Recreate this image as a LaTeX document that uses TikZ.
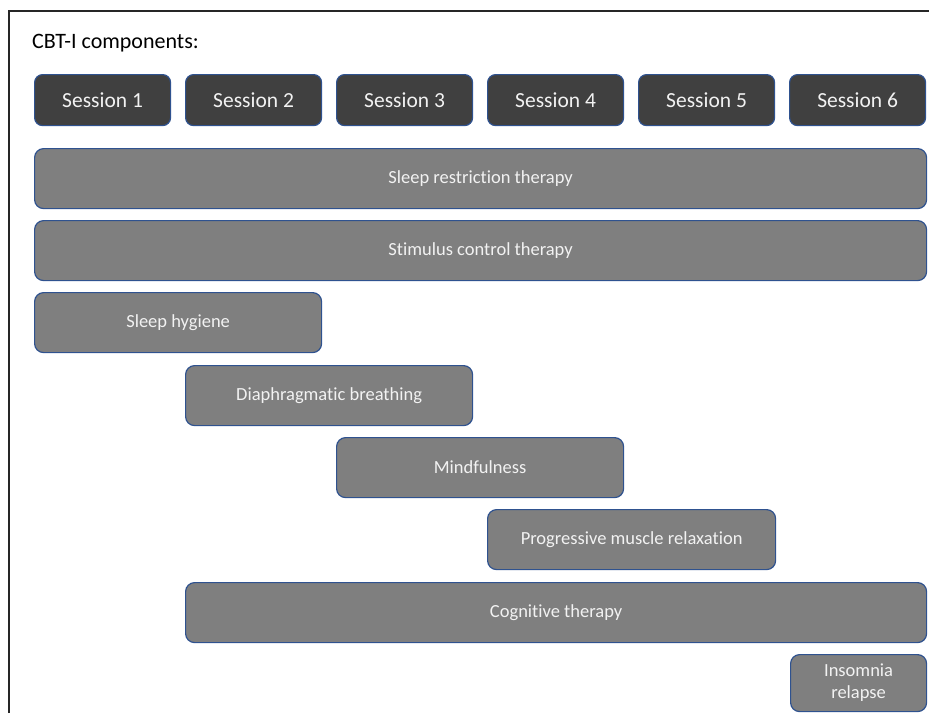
\documentclass[tikz,border=0pt]{standalone}
\usepackage{fontspec}
\setmainfont{Carlito}[Ligatures=NoCommon]
\definecolor{sessfill}{HTML}{404040}
\definecolor{barfill}{HTML}{7F7F7F}
\definecolor{edgeblue}{HTML}{2F528F}
\definecolor{labeltext}{HTML}{F2F2F2}
\tikzset{
  session/.style={draw=edgeblue, line width=1.2pt, fill=sessfill, rounded corners=8pt,
    text=labeltext, font=\fontsize{21.5}{24}\selectfont, inner sep=0pt,
    minimum width=136pt, minimum height=51pt, anchor=north west},
  bar/.style={draw=edgeblue, line width=1.2pt, fill=barfill, rounded corners=9pt,
    text=labeltext, font=\fontsize{18.5}{22}\selectfont, inner sep=0pt, align=center,
    minimum height=60pt, anchor=north west}
}

\begin{document}
\begin{tikzpicture}[x=1pt,y=-1pt]
\useasboundingbox (0,0) rectangle (929,713);
\draw[line width=2.2pt, black!85] (9,713) -- (9,11) -- (929,11);
\node[anchor=west, inner sep=0pt, font=\fontsize{22}{26}\selectfont] (title) at (32,43) {CBT-I components:};
\foreach \i in {1,...,6}
  \node[session] (s\i) at ({34+151*(\i-1)},74) {Session \i};
\node[bar, minimum width=892pt] (restrict) at (34,148) {Sleep restriction therapy};
\node[bar, minimum width=892pt] (stimulus) at (34,220) {Stimulus control therapy};
\node[bar, minimum width=287pt] (hygiene) at (34,292) {Sleep hygiene};
\node[bar, minimum width=287pt] (breathing) at (185,365) {Diaphragmatic breathing};
\node[bar, minimum width=287pt] (mindful) at (336,437) {Mindfulness};
\node[bar, minimum width=288pt] (muscle) at (487,509) {Progressive muscle relaxation};
\node[bar, minimum width=741pt] (cognitive) at (185,582) {Cognitive therapy};
\node[bar, minimum width=136pt, minimum height=57pt] (relapse) at (790,654) {Insomnia\\relapse};
\end{tikzpicture}
\end{document}
